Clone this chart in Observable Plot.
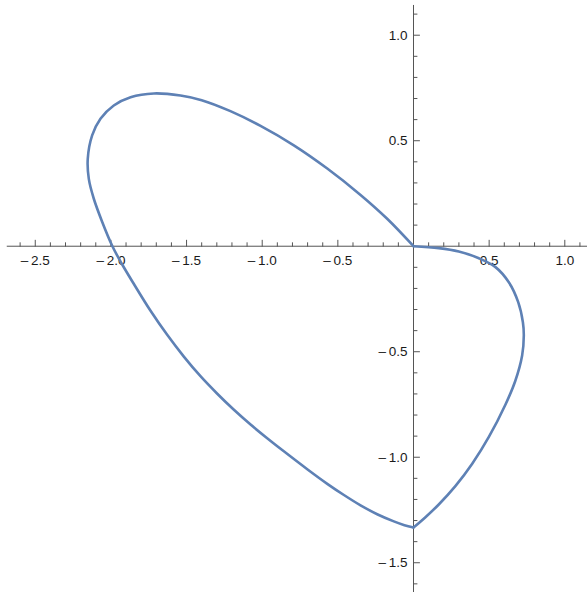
<!DOCTYPE html>
<html>
<head>
<meta charset="utf-8">
<script src="https://cdn.jsdelivr.net/npm/d3@7"></script>
<script src="https://cdn.jsdelivr.net/npm/@observablehq/plot@0.6"></script>
<style>
  html, body { margin: 0; padding: 0; background: #fff; }
</style>
</head>
<body>
<div id="chart"></div>
<script>
// Left loop: from origin, up-left round the loop, down to the corner at (0, -4/3)
const loopX = [0, -0.174, -0.350, -0.570, -0.791, -1.011, -1.210, -1.400, -1.540, -1.716, -1.870, -1.981, -2.069, -2.124, -2.153, -2.146, -2.113, -2.060, -1.990, -1.928, -1.849, -1.738, -1.628, -1.518, -1.408, -1.297, -1.187, -1.077, -0.967, -0.857, -0.700, -0.570, -0.460, -0.350, -0.240, -0.130, -0.060, 0];
const loopY = [0, 0.130, 0.243, 0.368, 0.478, 0.570, 0.640, 0.692, 0.714, 0.724, 0.706, 0.667, 0.604, 0.525, 0.414, 0.319, 0.225, 0.120, 0.000, -0.083, -0.178, -0.306, -0.420, -0.523, -0.616, -0.699, -0.775, -0.845, -0.910, -0.972, -1.058, -1.126, -1.179, -1.228, -1.270, -1.304, -1.322, -1.333];
// Right lobe: from the corner back up to the origin
const lobeX = [0, 0.079, 0.167, 0.278, 0.388, 0.498, 0.608, 0.672, 0.718, 0.729, 0.723, 0.692, 0.630, 0.542, 0.432, 0.299, 0.167, 0];
const lobeY = [-1.333, -1.284, -1.224, -1.136, -1.031, -0.904, -0.750, -0.640, -0.518, -0.423, -0.360, -0.265, -0.171, -0.099, -0.057, -0.025, -0.009, 0];

// Axes and ticks
const xMajorTicks = [-2.5, -2.0, -1.5, -1.0, -0.5, 0.5, 1.0];
const xTickLabels = ["\u2013\u20092.5", "\u2013\u20092.0", "\u2013\u20091.5", "\u2013\u20091.0", "\u2013\u20090.5", "0.5", "1.0"];
const xMinorTicks = [-2.6, -2.4, -2.3, -2.2, -2.1, -1.9, -1.8, -1.7, -1.6, -1.4, -1.3, -1.2, -1.1, -0.9, -0.8, -0.7, -0.6, -0.4, -0.3, -0.2, -0.1, 0.1, 0.2, 0.3, 0.4, 0.6, 0.7, 0.8, 0.9, 1.1];
const yMajorTicks = [-1.5, -1.0, -0.5, 0.5, 1.0];
const yTickLabels = ["\u2013\u20091.5", "\u2013\u20091.0", "\u2013\u20090.5", "0.5", "1.0"];
const yMinorTicks = [-1.6, -1.4, -1.3, -1.2, -1.1, -0.9, -0.8, -0.7, -0.6, -0.4, -0.3, -0.2, -0.1, 0.1, 0.2, 0.3, 0.4, 0.6, 0.7, 0.8, 0.9, 1.1];
const xAxisExtent = [-2.685, 1.15];
const yAxisExtent = [-1.641, 1.141];

const curve = [
  ...loopX.map((x, i) => ({x, y: loopY[i], part: "loop"})),
  ...lobeX.map((x, i) => ({x, y: lobeY[i], part: "lobe"}))
];

const tickShape = {
  draw(context, l) { context.moveTo(0, 0); context.lineTo(0, -l); }
};

const axisColor = "#555";
const font = "'Liberation Sans', Arial, Helvetica, sans-serif";

const chart = Plot.plot({
  width: 587,
  height: 592,
  margin: 0,
  style: {fontFamily: font, fontSize: "13px", background: "white"},
  x: {domain: [-2.7297, 1.150], axis: null},
  y: {domain: [-1.641, 1.1645], axis: null},
  marks: [
    Plot.ruleY([0], {x1: xAxisExtent[0], x2: xAxisExtent[1], stroke: axisColor, strokeWidth: 1}),
    Plot.ruleX([0], {y1: yAxisExtent[0], y2: yAxisExtent[1], stroke: axisColor, strokeWidth: 1}),
    Plot.vector(xMajorTicks, {x: d => d, y: 0, length: 6, rotate: 0, anchor: "start", shape: tickShape, stroke: axisColor, strokeWidth: 1}),
    Plot.vector(xMinorTicks, {x: d => d, y: 0, length: 3.5, rotate: 0, anchor: "start", shape: tickShape, stroke: axisColor, strokeWidth: 1}),
    Plot.vector(yMajorTicks, {x: 0, y: d => d, length: 6, rotate: 90, anchor: "start", shape: tickShape, stroke: axisColor, strokeWidth: 1}),
    Plot.vector(yMinorTicks, {x: 0, y: d => d, length: 3.5, rotate: 90, anchor: "start", shape: tickShape, stroke: axisColor, strokeWidth: 1}),
    Plot.text(xMajorTicks, {x: d => d, y: 0, text: (d, i) => xTickLabels[i], dy: 14, textAnchor: "middle", fill: "#1a1a1a", fontSize: 13.5}),
    Plot.text(yMajorTicks, {x: 0, y: d => d, text: (d, i) => yTickLabels[i], dx: -6, textAnchor: "end", fill: "#1a1a1a", fontSize: 13.5}),
    Plot.line(curve, {x: "x", y: "y", z: "part", curve: "catmull-rom", stroke: "#5E81B5", strokeWidth: 2.6})
  ]
});

document.getElementById("chart").appendChild(chart);
</script>
</body>
</html>
